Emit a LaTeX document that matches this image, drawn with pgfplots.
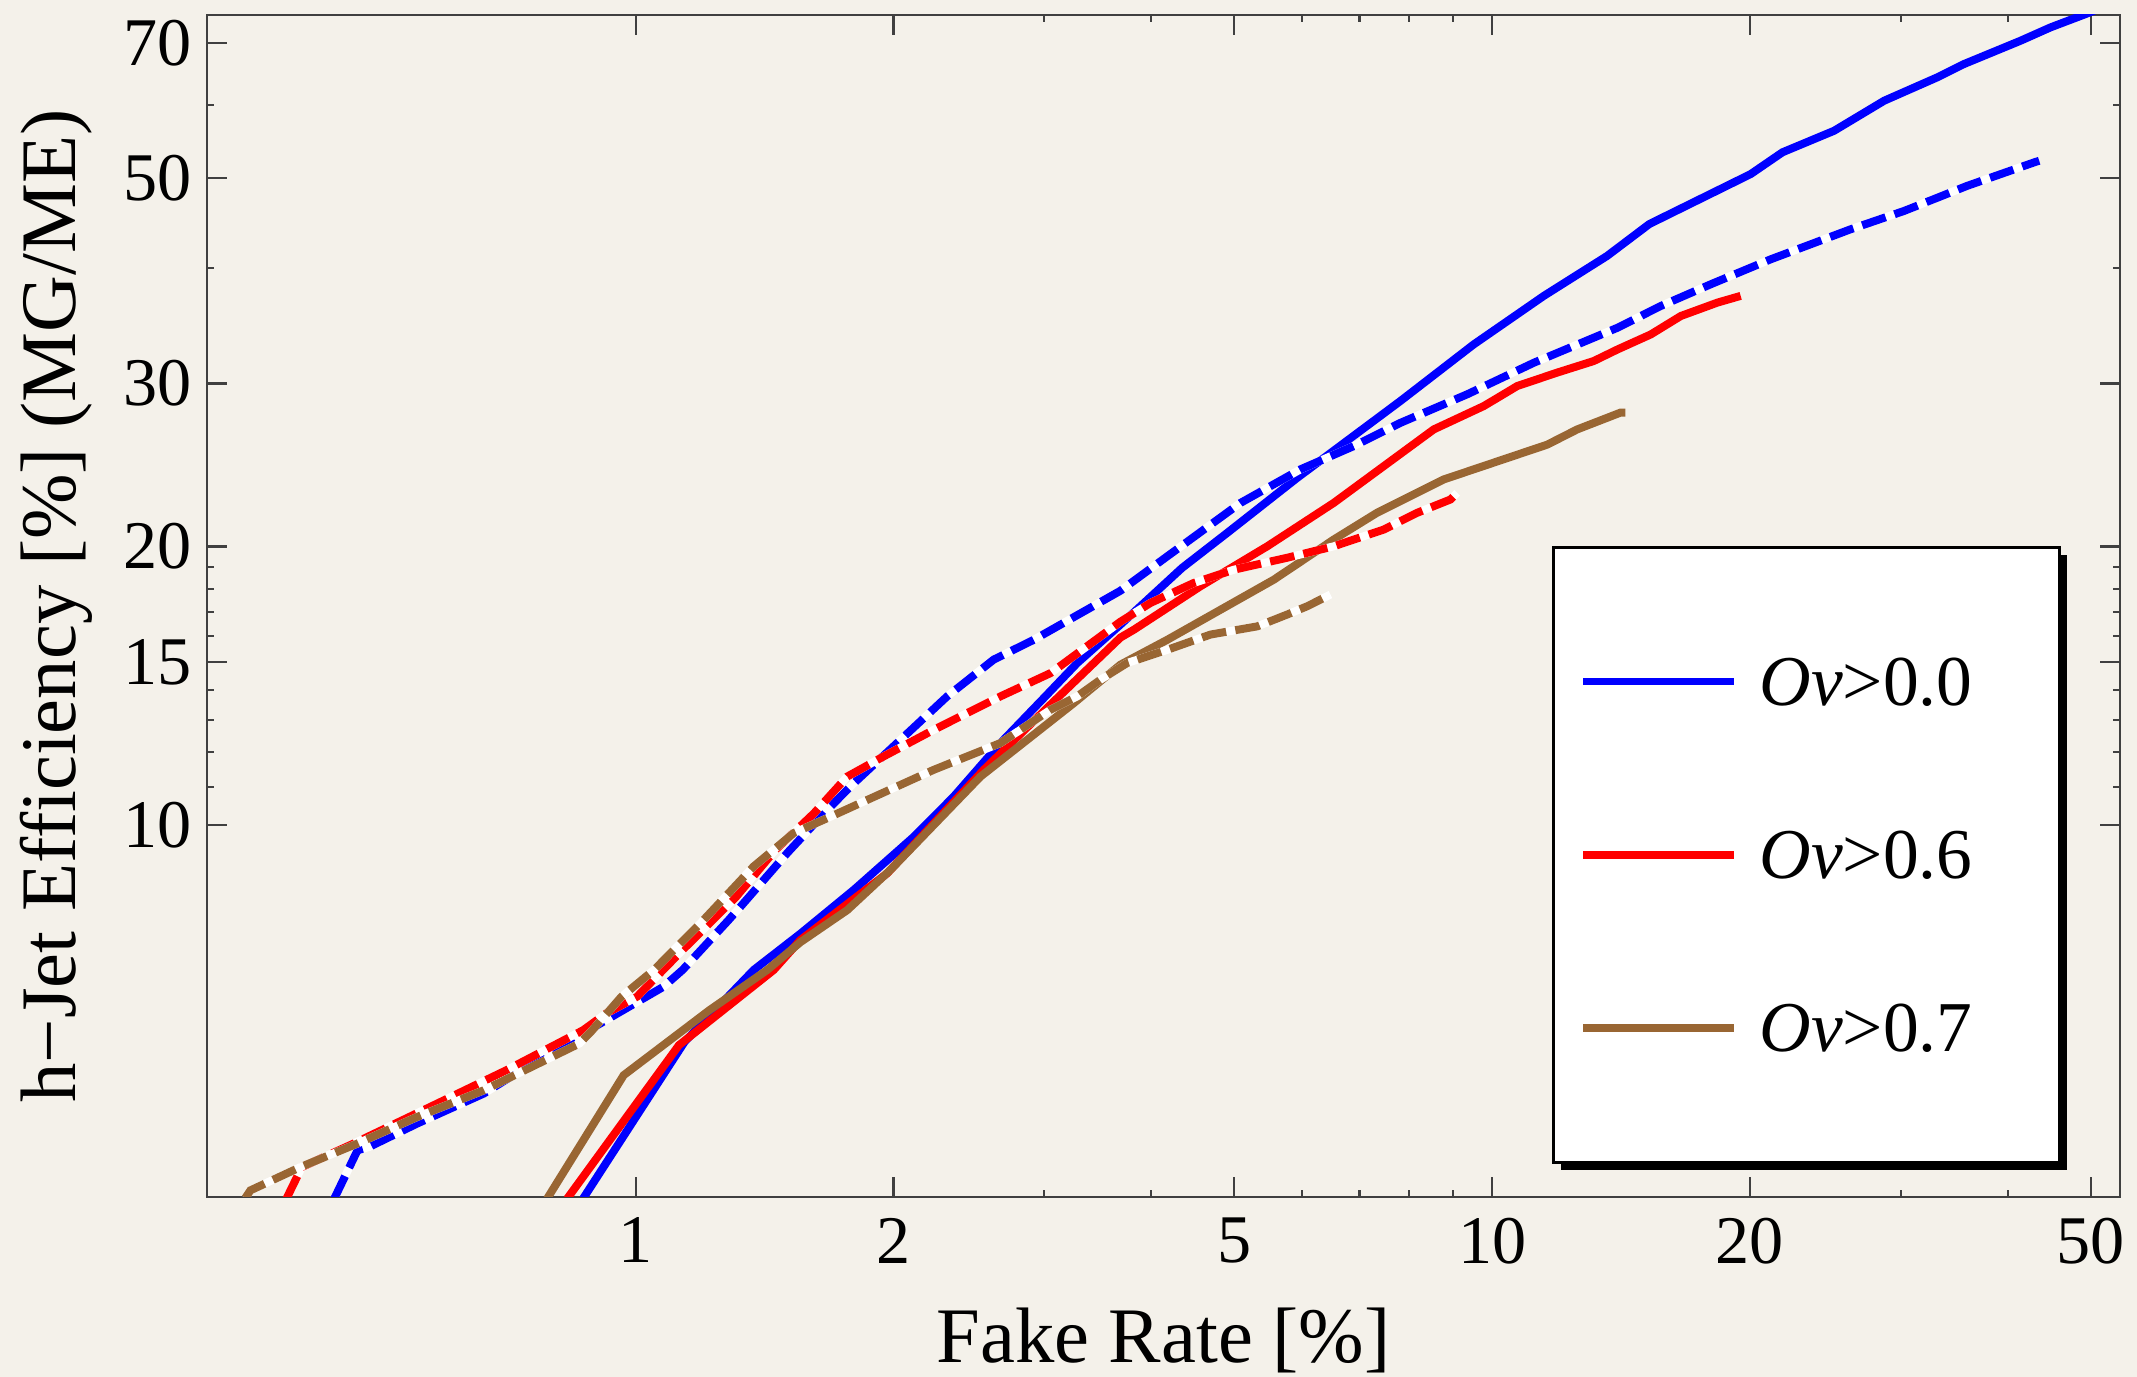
\documentclass[border=0pt]{standalone}
\usepackage{fontspec}
\setmainfont{Liberation Serif}
\usepackage{pgfplots}
\pgfplotsset{compat=1.18}
\usepackage{pgfplotstable}
\usetikzlibrary{shadows}
\definecolor{bgc}{RGB}{244,241,234}
\definecolor{mbrown}{rgb}{0.6,0.4,0.2}
\makeatletter
\tikzset{no preactions/.code={\let\tikz@preactions\pgfutil@empty}}
\makeatother

\pgfplotstableread{
x y
0.868 3.955
1.140 5.837
1.373 6.98
1.557 7.64
1.797 8.516
2.112 9.72
2.351 10.74
2.666 12.27
2.995 13.72
3.277 14.97
3.681 16.47
4.345 18.97
4.905 20.69
5.920 23.72
7.815 28.72
9.517 33.06
11.49 37.30
13.62 41.19
15.26 44.59
20.04 50.49
21.83 53.30
25.08 56.23
28.69 60.59
33.11 64.23
35.57 66.38
41.42 70.35
44.90 72.73
49.33 75.16
52.7 77.1
}\bs

\pgfplotstableread{
x y
0.8315 3.953
1.123 5.789
1.449 6.98
1.557 7.52
1.966 8.875
2.549 11.48
3.050 13.50
3.681 15.95
3.815 16.26
4.565 18.12
5.462 20.01
6.531 22.29
8.547 26.76
9.777 28.36
10.70 29.81
11.91 30.82
13.14 31.72
14.01 32.65
15.32 33.89
16.61 35.48
18.33 36.68
19.51 37.30
}\rs

\pgfplotstableread{
x y
0.788 3.953
0.968 5.373
1.219 6.316
1.424 6.98
1.557 7.48
1.766 8.10
1.983 8.95
2.527 11.29
3.247 13.55
3.681 14.91
4.174 15.86
5.559 18.42
6.531 20.35
7.338 21.75
8.780 23.63
11.60 25.77
12.57 26.76
14.12 27.90
14.31 27.90
}\ns

\pgfplotstableread{
x y
0.4446 3.955
0.4732 4.458
0.488 4.494
0.5555 4.764
0.6645 5.133
0.795 5.689
0.868 5.96
0.952 6.265
1.077 6.693
1.134 6.98
1.283 7.90
1.325 8.168
1.502 9.33
1.673 10.39
1.797 11.10
2.038 12.37
2.310 13.78
2.618 15.10
2.915 15.86
3.681 17.92
4.174 19.52
5.083 22.29
5.973 24.23
6.892 25.67
7.815 27.20
9.350 29.20
11.19 31.59
14.01 34.46
15.74 36.38
18.00 38.39
21.15 40.85
26.23 44.02
30.28 46.07
35.89 49.04
42.95 51.98
43.53 52.19
}\bd

\pgfplotstableread{
x y
0.391 3.955
0.4074 4.276
0.468 4.532
0.5752 4.965
0.7063 5.44
0.868 6.009
0.9236 6.265
1.003 6.53
1.134 7.335
1.310 8.374
1.456 9.41
1.614 10.30
1.766 11.29
1.948 11.87
2.228 12.68
2.666 13.78
3.050 14.60
3.681 16.59
3.990 17.38
4.483 18.27
4.992 18.88
5.763 19.45
6.531 20.01
7.471 20.86
8.174 21.75
8.939 22.48
9.102 22.86
}\rd

\pgfplotstableread{
x y
0.35 3.96
0.3548 4.035
0.406 4.276
0.4728 4.532
0.5555 4.843
0.6645 5.175
0.8593 5.813
0.8862 5.984
0.962 6.53
1.050 6.98
1.190 7.84
1.373 9.03
1.529 9.81
1.658 10.14
1.863 10.65
2.228 11.48
2.666 12.27
3.050 13.33
3.277 13.78
3.487 14.36
3.748 14.97
4.174 15.47
4.690 16.07
5.317 16.40
5.763 16.89
6.081 17.24
6.474 17.75
}\nd

\begin{document}
\begin{tikzpicture}
\path[use as bounding box, fill=bgc] (-37.64pt,-32.73pt) rectangle (350.91pt,217.64pt);
\begin{axis}[
  scale only axis,
  width=347.82pt, height=214.91pt,
  xmode=log, ymode=log,
  xmin=0.3157, xmax=54.1,
  ymin=3.97, ymax=75,
  xtick={1,2,5,10,20,50},
  xticklabels={1,2,5,10,20,50},
  minor xtick={3,4,6,7,8,9,30,40},
  ytick={10,15,20,30,50,70},
  yticklabels={10,15,20,30,50,70},
  minor ytick={11,12,13,14,16,17,18,19,40,60},
  tick align=inside,
  tick pos=both,
  major tick length=3.6pt,
  minor tick length=1.3pt,
  every tick/.style={black!75, line width=0.4pt},
  axis line style={black!75, line width=0.45pt},
  /pgf/number format/assume math mode=true,
  tick label style={font=\fontsize{12.4}{14}\selectfont},
  xticklabel style={inner sep=0pt, anchor=north, yshift=-3.6pt},
  yticklabel style={inner sep=0pt, anchor=east, xshift=-2.6pt},
  xlabel={Fake Rate [\%]},
  ylabel={h−Jet Efficiency [\%] (MG/ME)},
  every axis x label/.style={at={(axis description cs:0.5,-0.1404)}, anchor=base, font=\fontsize{14.3}{16}\selectfont},
  every axis y label/.style={at={(axis description cs:-0.0789,0.5)}, rotate=90, anchor=center, font=\fontsize{14.3}{16}\selectfont},
  legend image code/.code={\draw[no preactions,#1] (0pt,0pt) -- (27.5pt,0pt);},
  legend style={
    at={(0.7031,0.5508)}, anchor=north west,
    fill=white, draw=black, line width=0.5pt,
    inner xsep=4.7pt, inner ysep=8.65pt,
    row sep=0pt, column sep=3.8pt,
    general shadow={fill=black, shadow xshift=1.35pt, shadow yshift=-1.35pt},
    nodes={no preactions, inner xsep=0pt, inner ysep=0pt, minimum height=31.5pt, text width=49.8pt, align=left, font=\fontsize{13}{15}\selectfont, text depth=0pt},
  },
  legend cell align=left,
]
\addplot[blue, line width=1.45pt] table {\bs};
\addlegendentry{\textit{Ov}>0.0}
\addplot[red, line width=1.45pt] table {\rs};
\addlegendentry{\textit{Ov}>0.6}
\addplot[mbrown, line width=1.45pt] table {\ns};
\addlegendentry{\textit{Ov}>0.7}

\addplot[white, line width=1.45pt, forget plot] table {\bd};
\addplot[blue, line width=1.45pt, dash pattern=on 4.5pt off 1.7pt, forget plot] table {\bd};
\addplot[white, line width=1.45pt, forget plot] table {\rd};
\addplot[red, line width=1.45pt, dash pattern=on 4.5pt off 1.7pt, forget plot] table {\rd};
\addplot[white, line width=1.45pt, forget plot] table {\nd};
\addplot[mbrown, line width=1.45pt, dash pattern=on 4.5pt off 1.7pt, forget plot] table {\nd};
\end{axis}
\end{tikzpicture}
\end{document}
